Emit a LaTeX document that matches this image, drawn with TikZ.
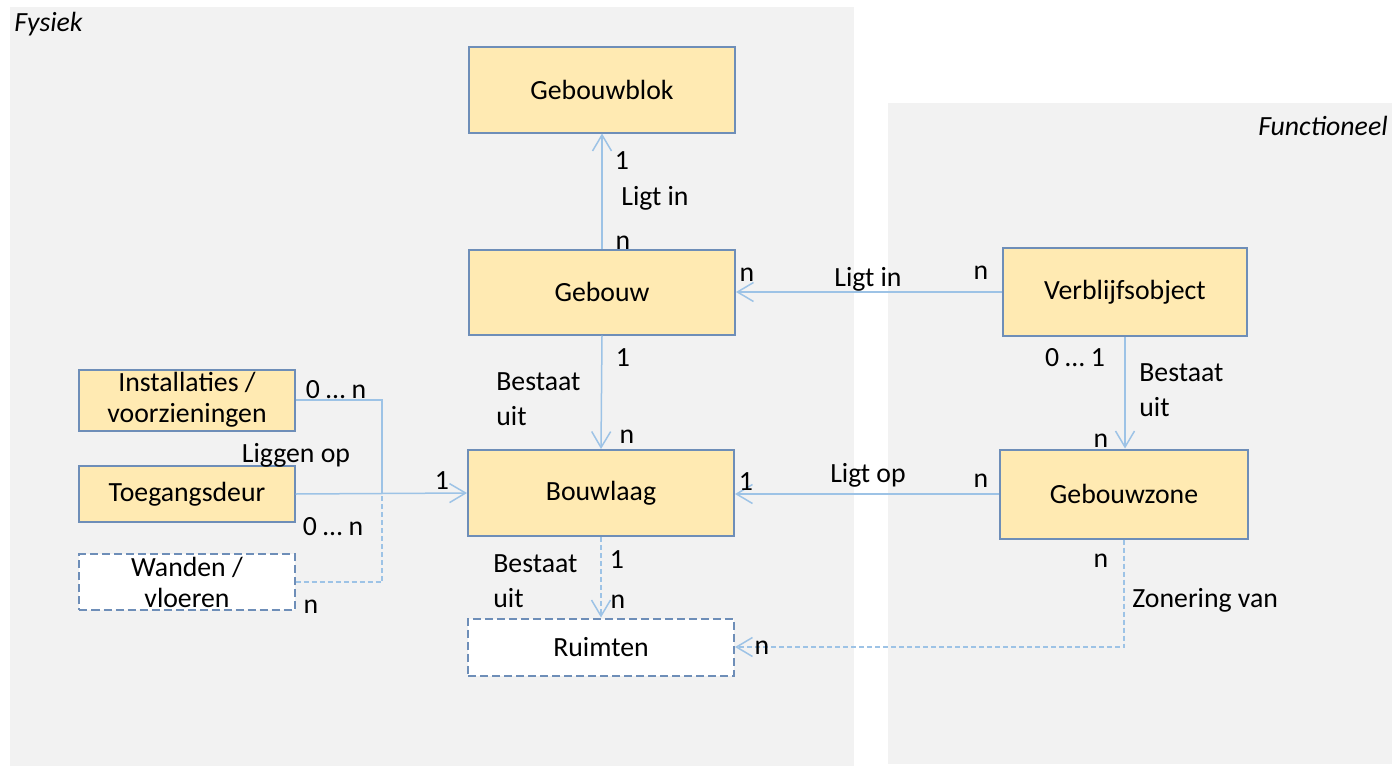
\documentclass[tikz,border=0pt]{standalone}
\usepackage{fontspec}
\setmainfont{Carlito}
\usetikzlibrary{arrows.meta}
\definecolor{paneel}{HTML}{F2F2F2}
\definecolor{geel}{HTML}{FFEAB2}
\definecolor{rand}{HTML}{6E8EB8}
\definecolor{lijn}{HTML}{9DC3E6}

\begin{document}
\begin{tikzpicture}[x=0.2mm, y=-0.2mm]
                \tikzstyle{every node}=[font=\fontsize{15.8}{17.6}\selectfont, text=black, inner sep=0pt]
                \tikzstyle{box}=[rectangle, fill=geel, draw=rand, line width=0.4mm, align=center]
                \tikzstyle{leegbox}=[rectangle, fill=white, draw=rand, line width=0.4mm, dash pattern=on 1.6mm off 0.8mm, align=center]
                \tikzstyle{link}=[lijn, line width=0.3mm]
                \tikzstyle{pijl}=[-{Straight Barb[length=3.2mm, width=3.8mm]}]
                \tikzstyle{stip}=[dash pattern=on 1mm off 0.6mm]
                \tikzstyle{twee}=[align=left, anchor=west, font=\fontsize{15.8}{20}\selectfont]

                \useasboundingbox (0,0) rectangle (1392,766);
                \fill[paneel] (10,7) rectangle (854,766);
                \fill[paneel] (888,103) rectangle (1392,764);
                \node[anchor=west, font=\fontsize{15.8}{17.6}\selectfont\itshape] (fysiek) at (14,24) {Fysiek};
                \node[anchor=east, font=\fontsize{15.8}{17.6}\selectfont\itshape] (functioneel) at (1388,126) {Functioneel};

                \node[box, minimum width=53.2mm, minimum height=17mm] (gebouwblok) at (602,90) {Gebouwblok};
                \node[box, minimum width=53.2mm, minimum height=17mm] (gebouw) at (602,292) {Gebouw};
                \node[box, minimum width=53.2mm, minimum height=17.2mm] (bouwlaag) at (601,493) {Bouwlaag};
                \node[leegbox, minimum width=53.2mm, minimum height=11.4mm] (ruimten) at (601,647) {Ruimten};
                \node[box, minimum width=48.8mm, minimum height=17.6mm] (verblijf) at (1125,292) {Verblijfsobject};
                \node[box, minimum width=49.6mm, minimum height=17.8mm] (zone) at (1124,494) {Gebouwzone};
                \node[box, minimum width=43mm, minimum height=12.2mm] (installaties) at (187,400) {Installaties /\\voorzieningen};
                \node[box, minimum width=43mm, minimum height=11.2mm] (deur) at (187,494) {Toegangsdeur};
                \node[leegbox, minimum width=43mm, minimum height=11.2mm] (wanden) at (187,582) {Wanden /\\vloeren};

                \coordinate (knik) at (382,494);
                \draw[link] (installaties.east) -| (knik);
                \draw[link, stip] (wanden.east) -| (knik);
                \draw[link, pijl] (deur.east) -- (bouwlaag.west);
                \draw[link, pijl] (gebouw.north) -- (gebouwblok.south);
                \draw[link, pijl] (gebouw.south) -- (bouwlaag.north);
                \draw[link, pijl, stip] (bouwlaag.south) -- (ruimten.north);
                \draw[link, pijl] (verblijf.west) -- (gebouw.east);
                \draw[link, pijl] (verblijf.south) -- (verblijf.south |- zone.north);
                \draw[link, pijl] (zone.west) -- (bouwlaag.east |- zone.west);
                \draw[link, pijl, stip] (zone.south) |- (ruimten.east);

                \node (inst0n) at (336,390) {0 … n};
                \node (liggenop) at (296,455) {Liggen op};
                \node (deur1) at (442,481) {1};
                \node (deur0n) at (333,527) {0 … n};
                \node (wandn) at (311,607) {n};

                \node (blok1) at (622,161) {1};
                \node (ligtin1) at (655,198) {Ligt in};
                \node (blokn) at (623,243) {n};

                \node (gebouw1) at (623,358) {1};
                \node[twee] (bestaat1) at (496,399) {Bestaat\\uit};
                \node (laagn) at (627,437) {n};

                \node (laag1) at (617,560) {1};
                \node[twee] (bestaat2) at (493,581) {Bestaat\\uit};
                \node (ruimten1) at (618,602) {n};

                \node (gebouwn) at (747,275) {n};
                \node (ligtin2) at (868,279) {Ligt in};
                \node (verblijfn) at (981,273) {n};

                \node (verblijf01) at (1075,358) {0 … 1};
                \node[twee] (bestaat3) at (1139,390) {Bestaat\\uit};
                \node (zonen1) at (1101,441) {n};

                \node (laagr1) at (746,482) {1};
                \node (ligtop) at (868,475) {Ligt op};
                \node (zonen2) at (981,481) {n};

                \node (zonen3) at (1101,561) {n};
                \node[anchor=west] (zonering) at (1132,600) {Zonering van};
                \node (ruimten2) at (762,648) {n};
\end{tikzpicture}
\end{document}
